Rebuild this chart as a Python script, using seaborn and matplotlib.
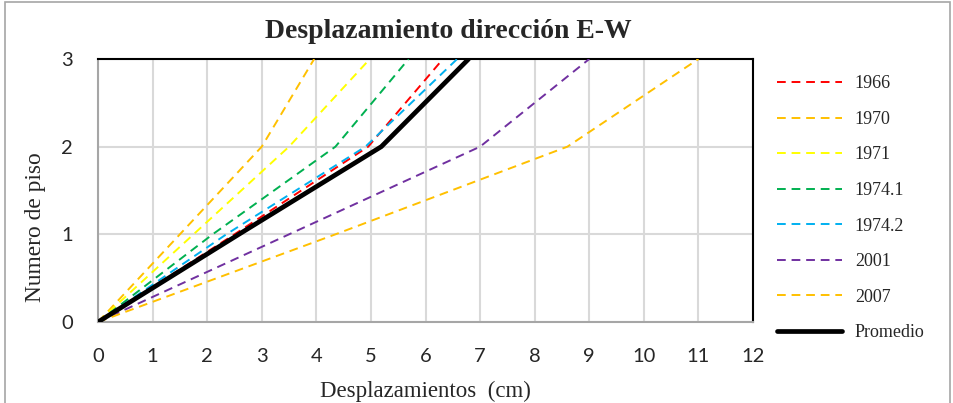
import matplotlib
matplotlib.use("Agg")
import matplotlib.pyplot as plt
import seaborn as sns
import pandas as pd
from matplotlib.patches import Rectangle

# ---- data ----
pisos = [0, 1, 2, 3]
d_1966 = [0, 2.50, 4.95, 6.32]
d_1970 = [0, 1.50, 3.00, 3.96]
d_1971 = [0, 1.75, 3.50, 4.98]
d_1974_1 = [0, 2.10, 4.35, 5.69]
d_1974_2 = [0, 2.35, 4.90, 6.58]
d_2001 = [0, 3.50, 7.00, 9.00]
d_2007 = [0, 4.35, 8.60, 11.00]
d_prom = [0, 2.58, 5.19, 6.79]

series_names = ["1966", "1970", "1971", "1974.1", "1974.2", "2001", "2007", "Promedio"]
series_values = [d_1966, d_1970, d_1971, d_1974_1, d_1974_2, d_2001, d_2007, d_prom]
colors = ["#FF0000", "#FFC000", "#FFFF00", "#00B050", "#00B0F0", "#7030A0", "#FFC000", "#000000"]

x_ticks = list(range(0, 13))
y_ticks = [0, 1, 2, 3]

rows = []
for name, vals in zip(series_names, series_values):
    for p, v in zip(pisos, vals):
        rows.append({"serie": name, "piso": p, "desp": v})
df = pd.DataFrame(rows)

sns.set_style("white")
plt.rcParams["font.family"] = ["Liberation Serif", "DejaVu Sans"]

fig = plt.figure(figsize=(9.54, 4.03), dpi=100)
ax = fig.add_axes([98 / 954, 1 - 322 / 403, (753 - 98) / 954, (322 - 59) / 403])

for name, col in zip(series_names, colors):
    sub = df[df["serie"] == name]
    if name == "Promedio":
        sns.lineplot(data=sub, x="desp", y="piso", color=col, lw=3.4, sort=False,
                     ax=ax, label=name, zorder=5)
    else:
        sns.lineplot(data=sub, x="desp", y="piso", color=col, lw=1.4, sort=False,
                     ax=ax, label=name, zorder=4)
        ax.lines[-1].set_dashes([4.5, 3.0])

ax.set_xlim(0, 12)
ax.set_ylim(0, 3)
ax.set_xticks(x_ticks)
ax.set_yticks(y_ticks)
ax.grid(True, color="#d9d9d9", lw=1.5)
ax.set_axisbelow(True)

tick_font = {"family": ["Lato", "DejaVu Sans"], "size": 14.5}
ax.set_xticklabels([str(t) for t in x_ticks], **tick_font)
ax.set_yticklabels([str(t) for t in y_ticks], **tick_font)
ax.tick_params(axis="x", length=0, pad=19)
ax.tick_params(axis="y", length=0, pad=18)

for s in ["left", "bottom"]:
    ax.spines[s].set_color("#a6a6a6")
    ax.spines[s].set_linewidth(1.5)
for s in ["top", "right"]:
    ax.spines[s].set_color("#000000")
    ax.spines[s].set_linewidth(1.5)

ax.set_xlabel("Desplazamientos  (cm)", fontsize=16.5, family="Liberation Serif")
ax.set_ylabel("Numero de piso", fontsize=16.8, family="Liberation Serif")
ax.xaxis.set_label_coords(0.5, -0.222)
ax.yaxis.set_label_coords(-0.079, 0.36)

fig.text(448 / 954, 1 - 31 / 403, "Desplazamiento dirección E-W", ha="center", va="center",
         fontsize=20, fontweight="bold", family="Liberation Serif")

handles, labels = ax.get_legend_handles_labels()
ax.get_legend().remove()
fig.legend(handles, labels, loc="upper left", bbox_to_anchor=(770 / 954, 1 - 68 / 403),
           frameon=False, fontsize=13, handlelength=3.6, handletextpad=0.7,
           labelspacing=1.03, borderaxespad=0)

fig.patches.append(Rectangle((5 / 954, -0.05), 945 / 954, 1.05 - 2 / 403,
                             transform=fig.transFigure, fill=False,
                             edgecolor="#a6a6a6", lw=1.2))

fig.savefig("out.png", dpi=100)
